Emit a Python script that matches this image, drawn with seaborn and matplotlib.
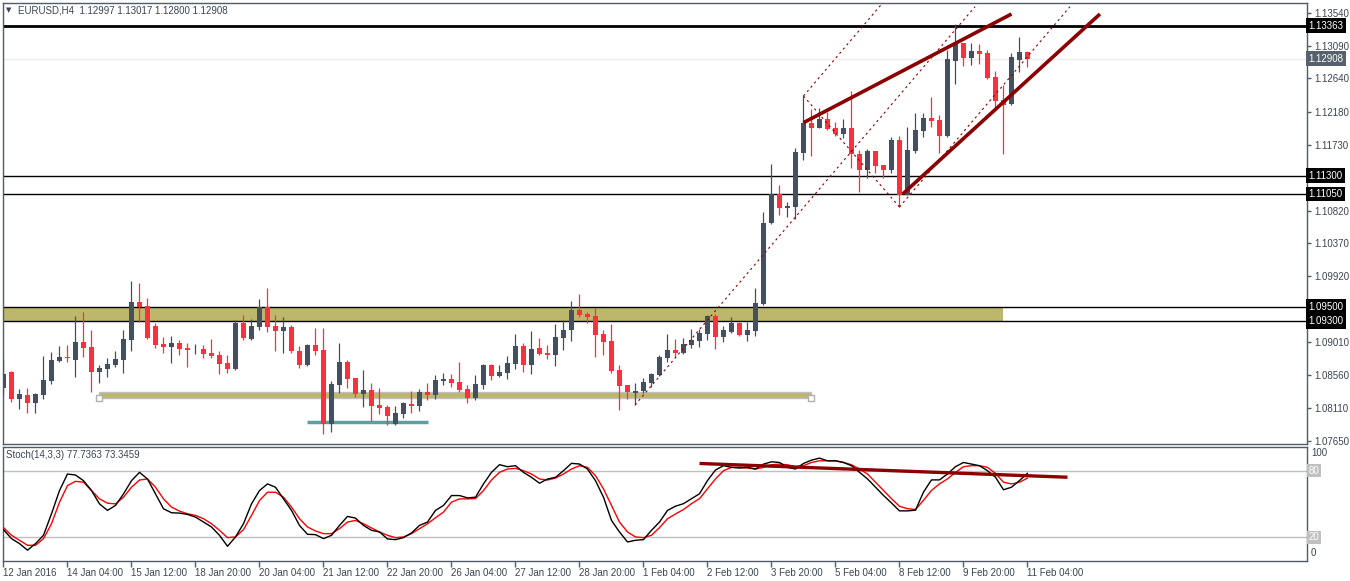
import numpy as np
import pandas as pd
import matplotlib
matplotlib.use("Agg")
import matplotlib.pyplot as plt
import seaborn as sns
from matplotlib.patches import Rectangle

# -------------------------
# EURUSD H4 candles
# -------------------------
opens = [
    1.08385, 1.08600, 1.08229, 1.08284, 1.08174, 1.08288, 1.08476, 1.08752, 1.08807, 1.08765,
    1.09013, 1.08944, 1.08600, 1.08642, 1.08697, 1.08765, 1.09041, 1.09563, 1.09508, 1.09233,
    1.08986, 1.08944, 1.08999, 1.08930, 1.08912, 1.08917, 1.08862, 1.08834, 1.08724, 1.08642,
    1.09275, 1.09054, 1.09219, 1.09495, 1.09233, 1.09164, 1.09219, 1.08889, 1.08697, 1.08972,
    1.08903, 1.07885, 1.08426, 1.08738, 1.08517, 1.08302, 1.08352, 1.08146, 1.08118, 1.07889,
    1.08026, 1.08164, 1.08137, 1.08325, 1.08288, 1.08481, 1.08504, 1.08462, 1.08366, 1.08247,
    1.08426, 1.08696, 1.08549, 1.08591, 1.08715, 1.08958, 1.08701, 1.08930, 1.08861, 1.08838,
    1.09072, 1.09182, 1.09453, 1.09398, 1.09370, 1.09123, 1.09026, 1.08627, 1.08421, 1.08316,
    1.08338, 1.08453, 1.08563, 1.08797, 1.08903, 1.08866, 1.08971, 1.09031, 1.09127, 1.09370,
    1.09086, 1.09155, 1.09274, 1.09114, 1.09169, 1.09536, 1.10650, 1.11049, 1.10861, 1.10870,
    1.11613, 1.12026, 1.11962, 1.12081, 1.11958, 1.11875, 1.11958, 1.11600, 1.11380, 1.11641,
    1.11448, 1.11380, 1.11792, 1.11036, 1.11641, 1.11916, 1.12095, 1.12068, 1.11847, 1.12880,
    1.13127, 1.12921, 1.13017, 1.12990, 1.12659, 1.12343, 1.12288, 1.12893, 1.12997]
highs = [
    1.08779, 1.08614, 1.08362, 1.08385, 1.08316, 1.08825, 1.08875, 1.08958, 1.08972, 1.09371,
    1.09426, 1.09178, 1.08697, 1.08793, 1.08889, 1.09178, 1.09852, 1.09825, 1.09619, 1.09275,
    1.09082, 1.09096, 1.09041, 1.08999, 1.08986, 1.08972, 1.09054, 1.08889, 1.08834, 1.09316,
    1.09385, 1.09330, 1.09605, 1.09756, 1.09385, 1.09357, 1.09247, 1.08958, 1.08986, 1.09206,
    1.09206, 1.08476, 1.08999, 1.08765, 1.08517, 1.08627, 1.08448, 1.08380, 1.08146, 1.08132,
    1.08192, 1.08338, 1.08370, 1.08448, 1.08559, 1.08586, 1.08572, 1.08738, 1.08421, 1.08559,
    1.08710, 1.08710, 1.08696, 1.08820, 1.09123, 1.08999, 1.09164, 1.09068, 1.08971, 1.09260,
    1.09315, 1.09577, 1.09673, 1.09426, 1.09481, 1.09178, 1.09260, 1.08696, 1.08421, 1.08448,
    1.08517, 1.08591, 1.08834, 1.09123, 1.09054, 1.09072, 1.09192, 1.09192, 1.09384, 1.09393,
    1.09233, 1.09357, 1.09288, 1.09288, 1.09756, 1.10802, 1.11462, 1.11173, 1.10939, 1.11682,
    1.12398, 1.12219, 1.12233, 1.12178, 1.12040, 1.12081, 1.12467, 1.11655, 1.11668, 1.11641,
    1.11448, 1.11834, 1.11847, 1.11971, 1.12164, 1.12164, 1.12384, 1.12136, 1.13031, 1.13389,
    1.13127, 1.13127, 1.13113, 1.13031, 1.12742, 1.12549, 1.12990, 1.13210, 1.13017]
lows = [
    1.08284, 1.08192, 1.08091, 1.08041, 1.08041, 1.08229, 1.08435, 1.08738, 1.08738, 1.08536,
    1.08807, 1.08325, 1.08453, 1.08531, 1.08669, 1.08586, 1.08889, 1.09288, 1.09054, 1.08930,
    1.08862, 1.08724, 1.08834, 1.08669, 1.08848, 1.08793, 1.08793, 1.08573, 1.08586, 1.08628,
    1.09041, 1.09041, 1.09178, 1.09151, 1.08889, 1.08862, 1.08862, 1.08655, 1.08683, 1.08834,
    1.07747, 1.07775, 1.08316, 1.08384, 1.08260, 1.08123, 1.07926, 1.08022, 1.07875, 1.07875,
    1.07971, 1.08040, 1.08068, 1.08219, 1.08233, 1.08426, 1.08398, 1.08329, 1.08178, 1.08219,
    1.08370, 1.08494, 1.08536, 1.08508, 1.08646, 1.08604, 1.08577, 1.08838, 1.08783, 1.08687,
    1.08907, 1.09031, 1.09361, 1.09279, 1.08811, 1.08838, 1.08591, 1.08082, 1.08233, 1.08150,
    1.08316, 1.08398, 1.08549, 1.08742, 1.08811, 1.08843, 1.08935, 1.08948, 1.09040, 1.08912,
    1.09017, 1.09141, 1.09100, 1.09031, 1.09100, 1.09522, 1.10636, 1.10760, 1.10737, 1.10701,
    1.11522, 1.11577, 1.11962, 1.11935, 1.11847, 1.11825, 1.11412, 1.11081, 1.11274, 1.11343,
    1.11274, 1.11343, 1.10870, 1.11036, 1.11618, 1.11838, 1.11971, 1.11613, 1.11834, 1.12568,
    1.12815, 1.12829, 1.12838, 1.12636, 1.12233, 1.11604, 1.12274, 1.12733, 1.12800]
closes = [
    1.08573, 1.08229, 1.08297, 1.08174, 1.08297, 1.08490, 1.08765, 1.08807, 1.08788, 1.09013,
    1.08935, 1.08600, 1.08655, 1.08710, 1.08779, 1.09054, 1.09563, 1.09495, 1.09068, 1.08972,
    1.08944, 1.08999, 1.08917, 1.08908, 1.08917, 1.08848, 1.08820, 1.08710, 1.08642, 1.09275,
    1.09068, 1.09233, 1.09495, 1.09219, 1.09164, 1.09219, 1.08889, 1.08697, 1.08972, 1.08889,
    1.07885, 1.08435, 1.08738, 1.08508, 1.08302, 1.08352, 1.08137, 1.08109, 1.07999, 1.08036,
    1.08178, 1.08137, 1.08325, 1.08288, 1.08490, 1.08504, 1.08453, 1.08357, 1.08247, 1.08435,
    1.08696, 1.08549, 1.08600, 1.08724, 1.08958, 1.08701, 1.08917, 1.08852, 1.08838, 1.09081,
    1.09178, 1.09453, 1.09389, 1.09357, 1.09114, 1.09017, 1.08618, 1.08412, 1.08329, 1.08338,
    1.08462, 1.08572, 1.08806, 1.08903, 1.08866, 1.08981, 1.09040, 1.09137, 1.09370, 1.09086,
    1.09178, 1.09274, 1.09114, 1.09178, 1.09549, 1.10650, 1.11049, 1.10857, 1.10884, 1.11627,
    1.12026, 1.11962, 1.12081, 1.11948, 1.11875, 1.11958, 1.11600, 1.11380, 1.11641, 1.11435,
    1.11380, 1.11792, 1.11036, 1.11655, 1.11930, 1.12095, 1.12054, 1.11847, 1.12907, 1.13127,
    1.12921, 1.13017, 1.12980, 1.12646, 1.12334, 1.12274, 1.12934, 1.13003, 1.12908]

# Stochastic (14,3,3): %K (black) and %D (red)
stoch_k = [
    26.9, 18.8, 14.3, 8.4, 14.3, 21.8, 41.2, 62.1, 77.0, 76.1,
    71.0, 62.1, 50.1, 44.2, 48.7, 59.1, 71.0, 78.5, 72.5, 59.1,
    45.7, 42.1, 41.8, 40.6, 38.2, 33.7, 29.3, 21.8, 11.9, 20.3,
    32.2, 50.1, 62.1, 68.1, 65.1, 54.6, 44.2, 30.7, 22.7, 22.4,
    18.8, 21.8, 30.7, 38.8, 37.3, 30.7, 26.3, 24.8, 18.5, 17.9,
    19.7, 23.9, 30.7, 33.7, 44.2, 48.7, 57.6, 57.6, 55.5, 56.1,
    68.1, 78.5, 85.4, 83.6, 84.5, 78.5, 74.0, 68.7, 72.5, 74.0,
    80.0, 86.6, 86.0, 81.5, 71.0, 56.1, 35.2, 24.8, 15.8, 17.3,
    17.9, 26.3, 33.7, 44.2, 48.0, 50.3, 54.8, 59.2, 71.1, 80.6,
    84.5, 83.0, 82.4, 83.0, 81.5, 85.9, 88.0, 87.4, 83.0, 81.5,
    86.5, 89.5, 91.3, 88.9, 88.9, 87.4, 84.5, 78.5, 72.6, 65.1,
    57.7, 50.9, 43.8, 43.8, 44.4, 60.7, 71.7, 71.7, 77.0, 83.6,
    87.4, 85.9, 84.5, 80.0, 74.1, 62.8, 65.1, 71.1, 77.7]
stoch_d = [
    28.7, 21.8, 17.3, 12.8, 12.8, 18.8, 32.2, 51.6, 66.6, 70.4,
    69.6, 62.1, 54.6, 50.7, 50.1, 56.1, 65.1, 71.6, 72.5, 65.1,
    54.6, 47.2, 43.6, 41.2, 39.7, 36.7, 32.2, 26.3, 19.7, 20.3,
    26.9, 39.7, 53.1, 60.6, 60.6, 56.1, 47.2, 36.7, 29.3, 25.7,
    23.3, 23.3, 27.8, 33.7, 35.2, 32.2, 28.4, 24.8, 21.8, 19.7,
    20.3, 23.3, 27.8, 32.2, 37.6, 42.7, 51.6, 54.6, 54.6, 54.9,
    62.1, 71.6, 78.5, 81.5, 82.1, 80.0, 77.0, 72.5, 71.6, 73.4,
    77.0, 81.5, 84.5, 83.0, 75.5, 63.6, 48.7, 33.7, 24.8, 20.3,
    19.7, 21.8, 28.7, 36.7, 41.0, 45.0, 50.3, 54.8, 63.7, 72.6,
    80.0, 83.0, 83.0, 82.4, 81.5, 83.0, 85.3, 85.9, 85.3, 83.6,
    84.5, 87.4, 88.9, 88.9, 88.9, 87.4, 85.3, 81.5, 77.0, 69.6,
    62.2, 54.8, 47.9, 45.8, 45.0, 53.3, 62.2, 68.1, 72.6, 78.5,
    83.6, 84.5, 84.5, 83.0, 77.6, 69.6, 68.1, 69.6, 73.3]

time_labels = ["12 Jan 2016", "14 Jan 04:00", "15 Jan 12:00", "18 Jan 20:00", "20 Jan 04:00",
               "21 Jan 12:00", "22 Jan 20:00", "26 Jan 04:00", "27 Jan 12:00", "28 Jan 20:00",
               "1 Feb 04:00", "2 Feb 12:00", "3 Feb 20:00", "5 Feb 04:00", "8 Feb 12:00",
               "9 Feb 20:00", "11 Feb 04:00"]
price_ticks = [1.13540, 1.13090, 1.12640, 1.12180, 1.11730, 1.10820, 1.10370,
               1.09920, 1.09010, 1.08560, 1.08110, 1.07650]

# horizontal levels
resistance = 1.13363
levels = [1.11300, 1.11050, 1.09500, 1.09300]
bid = 1.12908

# drawn objects (bar index, price)
zone_top, zone_bottom, zone_end = 1.09500, 1.09300, 124.9
band_x = [11.94, 101.0]
band_y = [1.08238, 1.08327]
teal_x, teal_y = [37.9, 53.1], 1.07912
wedge_upper = ([100.0, 126.0], [1.12031, 1.13526])
wedge_lower = ([112.4, 137.06], [1.11049, 1.13526])
channel_lines = [
    ([78.94, 121.44], [1.08146, 1.13627]),
    ([100.0, 109.78], [1.12398, 1.13664]),
    ([100.0, 112.0], [1.12398, 1.10870]),
    ([112.0, 133.31], [1.10870, 1.13627]),
]
stoch_trend = ([87.0, 133.0], [86.5, 74.1])

# -------------------------
# styling
# -------------------------
sns.set_theme(style="white")
plt.rcParams['font.family'] = ['Liberation Sans', 'DejaVu Sans']
bull_col = "#44505f"
bear_col = "#f6323e"
frame_col = "#4f5d6b"
text_col = "#3a4553"
dark_red = "#8b0000"
fs = 7

fig = plt.figure(figsize=(13.5, 5.81), dpi=100)
ax = fig.add_axes([3 / 1350, 137 / 581, 1304 / 1350, 441 / 581])
ax2 = fig.add_axes([3 / 1350, 20.3 / 581, 1304 / 1350, 114 / 581])

o = np.array(opens)
h = np.array(highs)
l = np.array(lows)
c = np.array(closes)
bars = np.arange(len(c))
cols = np.where(c >= o, bull_col, bear_col)

# zones and levels
ax.add_patch(Rectangle((-1, zone_bottom), zone_end + 1, zone_top - zone_bottom,
                       facecolor="#bdb76b", edgecolor="none", zorder=1))
ax.add_patch(Rectangle((band_x[0], band_y[0]), band_x[1] - band_x[0], band_y[1] - band_y[0],
                       facecolor="#bdb76b", edgecolor="#c0c0c0", lw=1, zorder=1))
ax.plot(band_x, [band_y[0], band_y[0]], ls="none", marker="s", ms=4,
        mfc="white", mec="#b0b0b0", mew=1, zorder=2)
ax.plot(teal_x, [teal_y, teal_y], color="#5f9ea0", lw=2.5, zorder=2,
        solid_capstyle="butt")
ax.axhline(bid, color="#ececec", lw=1, zorder=1)
ax.axhline(resistance, color="black", lw=2, zorder=2)
for lv in levels:
    ax.axhline(lv, color="black", lw=1, zorder=2)

# candles
ax.vlines(bars, l, h, colors=cols, lw=0.9, zorder=3)
ax.bar(bars, np.maximum(np.abs(c - o), 0.00004), bottom=np.minimum(o, c),
       width=0.62, color=cols, linewidth=0, zorder=4)

# channel / wedge
for xs, ys in channel_lines:
    ax.plot(xs, ys, color=dark_red, lw=0.8, ls=(0, (2, 3)), zorder=5)
ax.plot(*wedge_upper, color=dark_red, lw=2.6, zorder=6, solid_capstyle="butt")
ax.plot(*wedge_lower, color=dark_red, lw=2.6, zorder=6, solid_capstyle="butt")

ax.set_xlim(-0.0625, 162.94)
ax.set_ylim(1.076094, 1.136776)
ax.set_xticks([])
ax.yaxis.tick_right()
ax.set_yticks(price_ticks)
ax.set_yticklabels([f"{p:.5f}" for p in price_ticks])
ax.tick_params(axis="y", direction="out", length=3, width=1, color=frame_col,
               labelsize=fs, labelcolor=text_col, pad=2, right=True)

# right-hand price boxes
for lv in [resistance] + levels:
    ax.text(1.0012, lv, f"{lv:.5f}", transform=ax.get_yaxis_transform(),
            ha="left", va="center", fontsize=fs, color="white", zorder=10,
            bbox=dict(boxstyle="square,pad=0.25", fc="black", ec="none"), clip_on=False)
ax.text(1.0012, bid, f"{bid:.5f}", transform=ax.get_yaxis_transform(),
        ha="left", va="center", fontsize=fs, color="white", zorder=10,
        bbox=dict(boxstyle="square,pad=0.25", fc="#56616d", ec="none"), clip_on=False)

ax.text(0.0025, 0.983, "\u25bc", transform=ax.transAxes, fontsize=5, color=text_col,
        ha="left", va="center", family="DejaVu Sans")
ax.text(0.0115, 0.983, f"EURUSD,H4  {opens[-1]:.5f} {highs[-1]:.5f} {lows[-1]:.5f} {closes[-1]:.5f}",
        transform=ax.transAxes, fontsize=fs, color=text_col, ha="left", va="center")

# -------------------------
# stochastic panel
# -------------------------
stoch_df = pd.DataFrame({"bar": bars, "k": stoch_k, "d": stoch_d})
ax2.axhline(80, color="#c0c0c0", lw=1, zorder=1)
ax2.axhline(20, color="#c0c0c0", lw=1, zorder=1)
sns.lineplot(data=stoch_df, x="bar", y="d", ax=ax2, color="red", lw=1, zorder=3)
sns.lineplot(data=stoch_df, x="bar", y="k", ax=ax2, color="black", lw=1, zorder=4)
ax2.plot(*stoch_trend, color=dark_red, lw=2.4, zorder=5, solid_capstyle="butt")

ax2.set_xlim(-0.0625, 162.94)
ax2.set_ylim(-1.08, 101.6)
ax2.set_xlabel("")
ax2.set_ylabel("")
ax2.set_yticks([])
ax2.set_xticks(np.arange(0, len(c), 8))
ax2.set_xticklabels(time_labels)
ax2.tick_params(axis="x", direction="out", length=4, width=1, color=frame_col,
                labelsize=fs, labelcolor=text_col, pad=1, bottom=True)
for lab in ax2.get_xticklabels():
    lab.set_ha("left")

ytr = ax2.get_yaxis_transform()
ax2.text(1.003, 95.5, "100", transform=ytr, fontsize=fs, color=text_col, ha="left", va="center")
ax2.text(1.003, 5.5, "0", transform=ytr, fontsize=fs, color=text_col, ha="left", va="center")
for v in (80, 20):
    ax2.text(1.0015, v, str(v), transform=ytr, fontsize=fs, color="white", ha="left", va="center",
             bbox=dict(boxstyle="square,pad=0.15", fc="#c0c0c0", ec="none"), clip_on=False)
ax2.text(0.0025, 0.93, "Stoch(14,3,3) 77.7363 73.3459", transform=ax2.transAxes,
         fontsize=fs, color=text_col, ha="left", va="center")

for a in (ax, ax2):
    for sp in a.spines.values():
        sp.set_color(frame_col)
        sp.set_linewidth(1)

fig.savefig("out.png", dpi=100, facecolor="white")
